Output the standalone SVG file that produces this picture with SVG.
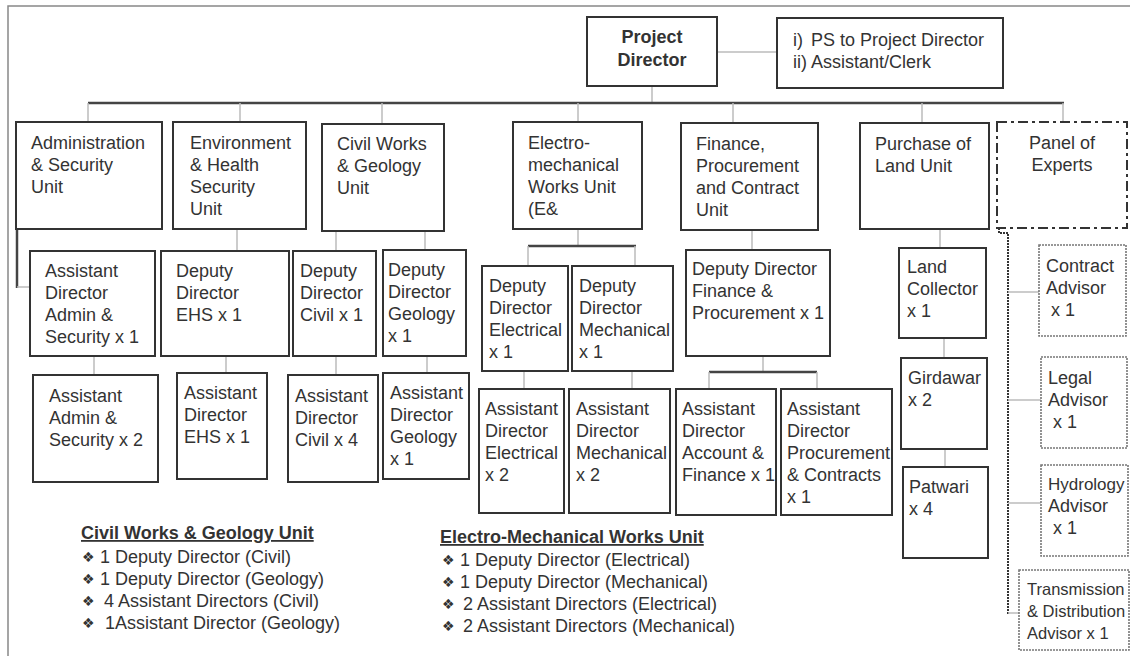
<svg xmlns="http://www.w3.org/2000/svg" width="1130" height="656" viewBox="0 0 1130 656">
<style>
text{font-family:"Liberation Sans",Arial,sans-serif;font-size:18px;fill:#333}
.b{fill:#fff;stroke:#333;stroke-width:2}
.adv{fill:#fff;stroke:#777;stroke-width:1.6;stroke-dasharray:2,1}
.pan{fill:#fff;stroke:#333;stroke-width:2;stroke-dasharray:10,4,3,4}
.c{stroke:#bbb;stroke-width:1.5;fill:none}
.bus{stroke:#444;stroke-width:2.5;fill:none}
.dot{stroke:#333;stroke-width:2;stroke-dasharray:2,1;fill:none}
.bold{font-weight:bold}
.bul{font-family:"DejaVu Sans",sans-serif;font-size:14px}
</style>
<rect width="1130" height="656" fill="#fff"/>
<path d="M8,656 V6 H1130" stroke="#888" stroke-width="1.5" fill="none"/>
<g id="connectors">
<line class="c" x1="717" y1="52" x2="777" y2="52"/>
<line class="c" x1="652" y1="86" x2="652" y2="103"/>
<line class="bus" x1="88" y1="103" x2="1064" y2="103"/>
<line class="c" x1="88" y1="103" x2="88" y2="122"/>
<line class="c" x1="240" y1="103" x2="240" y2="122"/>
<line class="c" x1="382" y1="103" x2="382" y2="124"/>
<line class="c" x1="578" y1="103" x2="578" y2="122"/>
<line class="c" x1="733" y1="103" x2="733" y2="123"/>
<line class="c" x1="922" y1="103" x2="922" y2="123"/>
<line class="c" x1="1063" y1="103" x2="1063" y2="122"/>
<line class="bus" x1="17" y1="229" x2="17" y2="288"/>
<line class="c" x1="17" y1="287" x2="30" y2="287"/>
<line class="c" x1="94" y1="356" x2="94" y2="375"/>
<line class="c" x1="237" y1="229" x2="237" y2="251"/>
<line class="c" x1="226" y1="356" x2="226" y2="373"/>
<line class="c" x1="336" y1="231" x2="336" y2="251"/>
<line class="c" x1="336" y1="356" x2="336" y2="375"/>
<line class="c" x1="425" y1="231" x2="425" y2="250"/>
<line class="c" x1="427" y1="356" x2="427" y2="373"/>
<line class="c" x1="578" y1="229" x2="578" y2="246"/>
<line class="bus" x1="528" y1="246" x2="636" y2="246"/>
<line class="c" x1="528" y1="246" x2="528" y2="266"/>
<line class="c" x1="635" y1="246" x2="635" y2="266"/>
<line class="c" x1="524" y1="371" x2="524" y2="389"/>
<line class="c" x1="632" y1="371" x2="632" y2="389"/>
<line class="c" x1="752" y1="230" x2="752" y2="250"/>
<line class="c" x1="763" y1="356" x2="763" y2="372"/>
<line class="bus" x1="709" y1="372" x2="817" y2="372"/>
<line class="c" x1="709" y1="372" x2="709" y2="389"/>
<line class="c" x1="817" y1="372" x2="817" y2="389"/>
<line class="c" x1="940" y1="229" x2="940" y2="248"/>
<line class="c" x1="944" y1="338" x2="944" y2="358"/>
<line class="c" x1="945" y1="449" x2="945" y2="467"/>
<path class="dot" d="M999,228 V233 H1008 V614"/>
<line class="c" x1="1008" y1="292" x2="1039" y2="292"/>
<line class="c" x1="1008" y1="400" x2="1041" y2="400"/>
<line class="c" x1="1008" y1="503" x2="1041" y2="503"/>
<line class="c" x1="1008" y1="613" x2="1019" y2="613"/>
</g>
<g id="pd"><rect class="b" x="587" y="17" width="130" height="69"/>
<text class="bold" x="652" y="43" text-anchor="middle">Project</text><text class="bold" x="652" y="66" text-anchor="middle">Director</text></g>
<g id="ps"><rect class="b" x="777" y="18" width="226" height="70"/>
<text x="793" y="46">i)<tspan x="811">PS to Project Director</tspan></text><text x="793" y="68">ii)<tspan x="811">Assistant/Clerk</tspan></text></g>
<g id="admin"><rect class="b" x="16" y="122" width="146" height="107"/>
<text x="31" y="149">Administration</text><text x="31" y="171">&amp; Security</text><text x="31" y="193">Unit</text></g>
<g id="ehs"><rect class="b" x="173" y="122" width="133" height="107"/>
<text x="190" y="149">Environment</text><text x="190" y="171">&amp; Health</text><text x="190" y="193">Security</text><text x="190" y="215">Unit</text></g>
<g id="civil"><rect class="b" x="322" y="124" width="122" height="107"/>
<text x="337" y="150">Civil Works</text><text x="337" y="172">&amp; Geology</text><text x="337" y="194">Unit</text></g>
<g id="em"><rect class="b" x="513" y="122" width="129" height="107"/>
<text x="528" y="149">Electro-</text><text x="528" y="171">mechanical</text><text x="528" y="193">Works Unit</text><text x="528" y="215">(E&amp;</text></g>
<g id="fin"><rect class="b" x="681" y="123" width="137" height="107"/>
<text x="696" y="150">Finance,</text><text x="696" y="172">Procurement</text><text x="696" y="194">and Contract</text><text x="696" y="216">Unit</text></g>
<g id="land"><rect class="b" x="860" y="123" width="129" height="106"/>
<text x="875" y="150">Purchase of</text><text x="875" y="172">Land Unit</text></g>
<g id="panel"><rect class="pan" x="997" y="122" width="130" height="106"/>
<text x="1062" y="149" text-anchor="middle">Panel of</text><text x="1062" y="171" text-anchor="middle">Experts</text></g>
<g id="ada"><rect class="b" x="30" y="251" width="125" height="105"/>
<text x="45" y="277">Assistant</text><text x="45" y="299">Director</text><text x="45" y="321">Admin &amp;</text><text x="45" y="343">Security x 1</text></g>
<g id="dde"><rect class="b" x="161" y="251" width="128" height="105"/>
<text x="176" y="277">Deputy</text><text x="176" y="299">Director</text><text x="176" y="321">EHS x 1</text></g>
<g id="ddc"><rect class="b" x="293" y="251" width="83" height="105"/>
<text x="300" y="277">Deputy</text><text x="300" y="299">Director</text><text x="300" y="321">Civil x 1</text></g>
<g id="ddg"><rect class="b" x="383" y="250" width="83" height="106"/>
<text x="388" y="276">Deputy</text><text x="388" y="298">Director</text><text x="388" y="320">Geology</text><text x="388" y="342">x 1</text></g>
<g id="ddel"><rect class="b" x="482" y="266" width="86" height="105"/>
<text x="489" y="292">Deputy</text><text x="489" y="314">Director</text><text x="489" y="336">Electrical</text><text x="489" y="358">x 1</text></g>
<g id="ddm"><rect class="b" x="572" y="266" width="101" height="105"/>
<text x="579" y="292">Deputy</text><text x="579" y="314">Director</text><text x="579" y="336">Mechanical</text><text x="579" y="358">x 1</text></g>
<g id="ddf"><rect class="b" x="686" y="250" width="144" height="106"/>
<text x="692" y="275">Deputy Director</text><text x="692" y="297">Finance &amp;</text><text x="692" y="319">Procurement x 1</text></g>
<g id="lc"><rect class="b" x="899" y="248" width="87" height="90"/>
<text x="907" y="273">Land</text><text x="907" y="295">Collector</text><text x="907" y="317">x 1</text></g>
<g id="gir"><rect class="b" x="901" y="358" width="86" height="91"/>
<text x="908" y="384">Girdawar</text><text x="908" y="406">x 2</text></g>
<g id="pat"><rect class="b" x="903" y="467" width="85" height="91"/>
<text x="909" y="493">Patwari</text><text x="909" y="515">x 4</text></g>
<g id="ca"><rect class="adv" x="1039" y="245" width="87" height="91"/>
<text x="1046" y="272">Contract</text><text x="1046" y="294">Advisor</text><text x="1051" y="316">x 1</text></g>
<g id="la"><rect class="adv" x="1041" y="357" width="86" height="91"/>
<text x="1048" y="384">Legal</text><text x="1048" y="406">Advisor</text><text x="1053" y="428">x 1</text></g>
<g id="ha"><rect class="adv" x="1041" y="465" width="87" height="91"/>
<text x="1048" y="490" style="font-size:17px">Hydrology</text><text x="1048" y="512">Advisor</text><text x="1053" y="534">x 1</text></g>
<g id="tda"><rect class="adv" x="1019" y="570" width="110" height="80"/>
<text x="1027" y="595" style="font-size:16.5px">Transmission</text><text x="1027" y="617" style="font-size:16.5px">&amp; Distribution</text><text x="1027" y="639" style="font-size:16.5px">Advisor x 1</text></g>
<g id="aas"><rect class="b" x="33" y="375" width="125" height="107"/>
<text x="49" y="402">Assistant</text><text x="49" y="424">Admin &amp;</text><text x="49" y="446">Security x 2</text></g>
<g id="ade"><rect class="b" x="177" y="373" width="90" height="106"/>
<text x="184" y="399">Assistant</text><text x="184" y="421">Director</text><text x="184" y="443">EHS x 1</text></g>
<g id="adc"><rect class="b" x="288" y="375" width="90" height="107"/>
<text x="295" y="402">Assistant</text><text x="295" y="424">Director</text><text x="295" y="446">Civil x 4</text></g>
<g id="adg"><rect class="b" x="383" y="373" width="86" height="106"/>
<text x="390" y="399">Assistant</text><text x="390" y="421">Director</text><text x="390" y="443">Geology</text><text x="390" y="465">x 1</text></g>
<g id="adel"><rect class="b" x="479" y="389" width="85" height="124"/>
<text x="485" y="415">Assistant</text><text x="485" y="437">Director</text><text x="485" y="459">Electrical</text><text x="485" y="481">x 2</text></g>
<g id="adm"><rect class="b" x="569" y="389" width="101" height="124"/>
<text x="576" y="415">Assistant</text><text x="576" y="437">Director</text><text x="576" y="459">Mechanical</text><text x="576" y="481">x 2</text></g>
<g id="adaf"><rect class="b" x="676" y="389" width="100" height="126"/>
<text x="682" y="415">Assistant</text><text x="682" y="437">Director</text><text x="682" y="459">Account &amp;</text><text x="682" y="481">Finance x 1</text></g>
<g id="adp"><rect class="b" x="781" y="389" width="111" height="126"/>
<text x="787" y="415">Assistant</text><text x="787" y="437">Director</text><text x="787" y="459">Procurement</text><text x="787" y="481">&amp; Contracts</text><text x="787" y="503">x 1</text></g>
<g id="note-civil">
<text class="bold" x="81" y="539" text-decoration="underline">Civil Works &amp; Geology Unit</text>
<text class="bul" x="82" y="562">❖</text><text x="100" y="563">1 Deputy Director (Civil)</text>
<text class="bul" x="82" y="584">❖</text><text x="100" y="585">1 Deputy Director (Geology)</text>
<text class="bul" x="82" y="606">❖</text><text x="104" y="607">4 Assistant Directors (Civil)</text>
<text class="bul" x="82" y="628">❖</text><text x="105" y="629">1Assistant Director (Geology)</text>
</g>
<g id="note-em">
<text class="bold" x="440" y="543" text-decoration="underline">Electro-Mechanical Works Unit</text>
<text class="bul" x="442" y="565">❖</text><text x="460" y="566">1 Deputy Director (Electrical)</text>
<text class="bul" x="442" y="587">❖</text><text x="460" y="588">1 Deputy Director (Mechanical)</text>
<text class="bul" x="442" y="609">❖</text><text x="463" y="610">2 Assistant Directors (Electrical)</text>
<text class="bul" x="442" y="631">❖</text><text x="463" y="632">2 Assistant Directors (Mechanical)</text>
</g>
</svg>
